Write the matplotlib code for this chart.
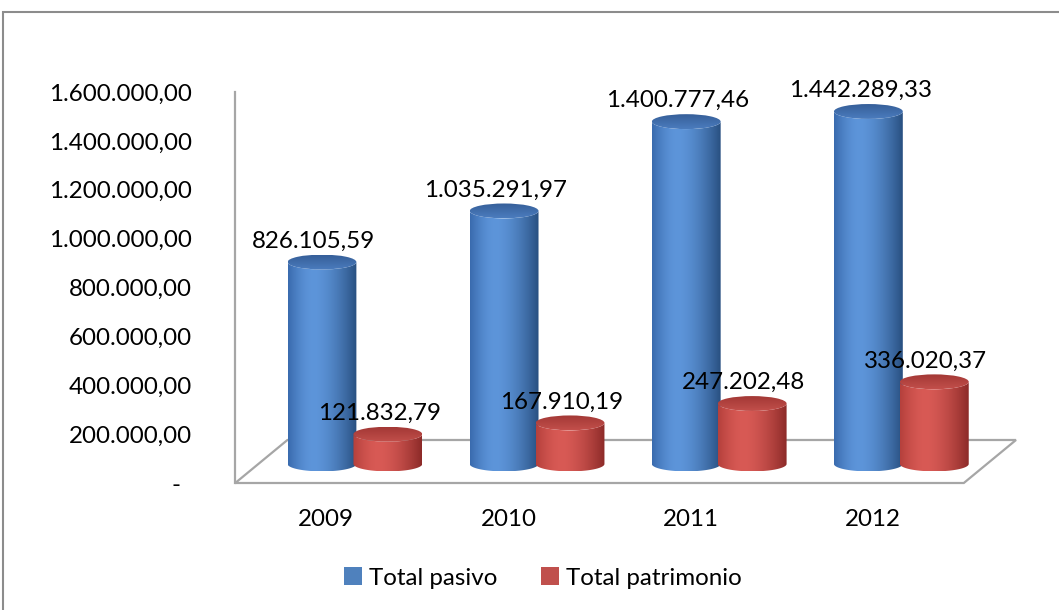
import numpy as np
import matplotlib
matplotlib.use("Agg")
import matplotlib.pyplot as plt
from matplotlib.patches import Polygon, Ellipse, Rectangle, Patch
from matplotlib.colors import to_rgb
from matplotlib.transforms import ScaledTranslation

# ---- data ----
years = ["2009", "2010", "2011", "2012"]
total_pasivo = [826105.59, 1035291.97, 1400777.46, 1442289.33]
total_patrimonio = [121832.79, 167910.19, 247202.48, 336020.37]
series_names = ["Total pasivo", "Total patrimonio"]
y_ticks = [0, 200000, 400000, 600000, 800000, 1000000, 1200000, 1400000, 1600000]


def fmt_es(v):
    s = f"{v:,.2f}"
    return s.replace(",", "X").replace(".", ",").replace("X", ".")


y_tick_labels = ["-" if t == 0 else fmt_es(t) for t in y_ticks]

FONT = "Lato"
FS = 17.4
plt.rcParams["font.family"] = [FONT, "DejaVu Sans"]

W, H = 1059, 610
fig = plt.figure(figsize=(W / 100, H / 100), dpi=100)
fig.patch.set_facecolor("white")

# chart area border (extends past right/bottom)
fig.add_artist(Rectangle((3 / W, -0.2), 1.5, 1.2 - 12 / H, transform=fig.transFigure,
                         fill=False, edgecolor="#8c8c8c", lw=1.5))

px_left, px_right, px_bottom, px_top = 235.25, 1016.0, 483.0, 92.0
ax = fig.add_axes([px_left / W, 1 - px_bottom / H, (px_right - px_left) / W,
                   (px_bottom - px_top) / H])
xmin, xmax = -0.5, 3.7865
ymax = 1600000
ax.set_xlim(xmin, xmax)
ax.set_ylim(0, ymax)
ax.set_facecolor("none")

for s in ["top", "right", "bottom"]:
    ax.spines[s].set_visible(False)
ax.spines["left"].set_color("#a6a6a6")
ax.spines["left"].set_linewidth(1.6)

# floor (oblique depth)
depth_dx, depth_dy = 0.2865, 176000
floor = Polygon([(xmin, 0), (3.5, 0), (3.5 + depth_dx, depth_dy), (xmin + depth_dx, depth_dy)],
                closed=True, fill=False, edgecolor="#a6a6a6", lw=1.6, zorder=1, clip_on=False)
ax.add_patch(floor)

# cylinders
bar_dx, bar_dy = 0.157, 78000
half_off = 0.181
bar_w = 0.378
semi = 30500  # vertical semi-axis of ellipses (value units)

blue = dict(left="#3a6bae", peak="#5d95da", right="#284f80",
            top_back="#365f99", top_front="#4b7cbe")
red = dict(left="#b5403c", peak="#d85a55", right="#8c2a28",
           top_back="#a33835", top_front="#c24f4b")


def body_colors(c, n=200):
    u = np.linspace(0, 1, n)
    L, P, R = (np.array(to_rgb(c[k])) for k in ("left", "peak", "right"))
    out = np.zeros((n, 3))
    pk = 0.38
    for i, uu in enumerate(u):
        if uu <= pk:
            t = np.sin(uu / pk * np.pi / 2)
            out[i] = L + (P - L) * t
        else:
            t = ((uu - pk) / (1 - pk)) ** 1.6
            out[i] = P + (R - P) * t
    return out


def draw_cylinder(xc, value, c, z):
    base = bar_dy
    top = value + bar_dy
    x0, x1 = xc - bar_w / 2, xc + bar_w / 2
    t1 = np.linspace(np.pi, 2 * np.pi, 60)
    bottom_arc = np.column_stack([xc + bar_w / 2 * np.cos(t1), base + semi * np.sin(t1)])
    t2 = np.linspace(2 * np.pi, np.pi, 60)
    top_arc = np.column_stack([xc + bar_w / 2 * np.cos(t2), top + semi * np.sin(t2)])
    verts = np.vstack([bottom_arc, top_arc])
    body = Polygon(verts, closed=True, transform=ax.transData, facecolor="none",
                   edgecolor="none", zorder=z)
    ax.add_patch(body)
    cols = body_colors(c)
    img = cols[np.newaxis, :, :]
    im = ax.imshow(img, extent=[x0, x1, base - semi, top + semi], aspect="auto",
                   origin="lower", zorder=z, interpolation="bilinear")
    im.set_clip_path(body)
    # top ellipse with vertical gradient
    n = 60
    tb, tf = np.array(to_rgb(c["top_back"])), np.array(to_rgb(c["top_front"]))
    v = np.linspace(0, 1, n)[:, None]
    timg = (tf + (tb - tf) * v)[:, None, :].repeat(2, axis=1)
    ell = Ellipse((xc, top), bar_w, 2 * semi, transform=ax.transData, facecolor="none",
                  edgecolor="none", zorder=z + 0.5)
    ax.add_patch(ell)
    tim = ax.imshow(timg, extent=[x0, x1, top - semi, top + semi], aspect="auto",
                    origin="lower", zorder=z + 0.5, interpolation="bilinear")
    tim.set_clip_path(ell)
    return top


z = 2
label_style = dict(fontsize=FS, ha="center", va="center", zorder=20,
                   textcoords="offset points", annotation_clip=False)
for i in range(len(years)):
    for val, c, off in ((total_pasivo[i], blue, -half_off), (total_patrimonio[i], red, half_off)):
        xc = i + off + bar_dx
        top = draw_cylinder(xc, val, c, z)
        z += 1
        ax.annotate(fmt_es(val), (xc, top), xytext=(-6, 15), **label_style)

ax.set_xlim(xmin, xmax)
ax.set_ylim(0, ymax)

# axes ticks
ax.set_xticks(range(len(years)))
ax.set_xticklabels(years, fontsize=FS)
ax.set_yticks(y_ticks)
ax.set_yticklabels(y_tick_labels, fontsize=FS)
ax.tick_params(axis="both", length=0)
ax.tick_params(axis="y", pad=31)
ax.tick_params(axis="x", pad=19)
zero_lbl = ax.yaxis.get_major_ticks()[0].label1
zero_lbl.set_transform(zero_lbl.get_transform() + ScaledTranslation(-8.5 / 72, 0, fig.dpi_scale_trans))

# legend
handles = [Patch(facecolor="#4f81bd", edgecolor="none"), Patch(facecolor="#c0504d", edgecolor="none")]
fig.legend(handles, series_names, loc="center", bbox_to_anchor=(543 / W, 1 - 578 / H),
           ncol=2, frameon=False, fontsize=FS, handlelength=0.75, handleheight=0.75,
           handletextpad=0.3, columnspacing=1.8)

fig.savefig("out.png", dpi=100)
